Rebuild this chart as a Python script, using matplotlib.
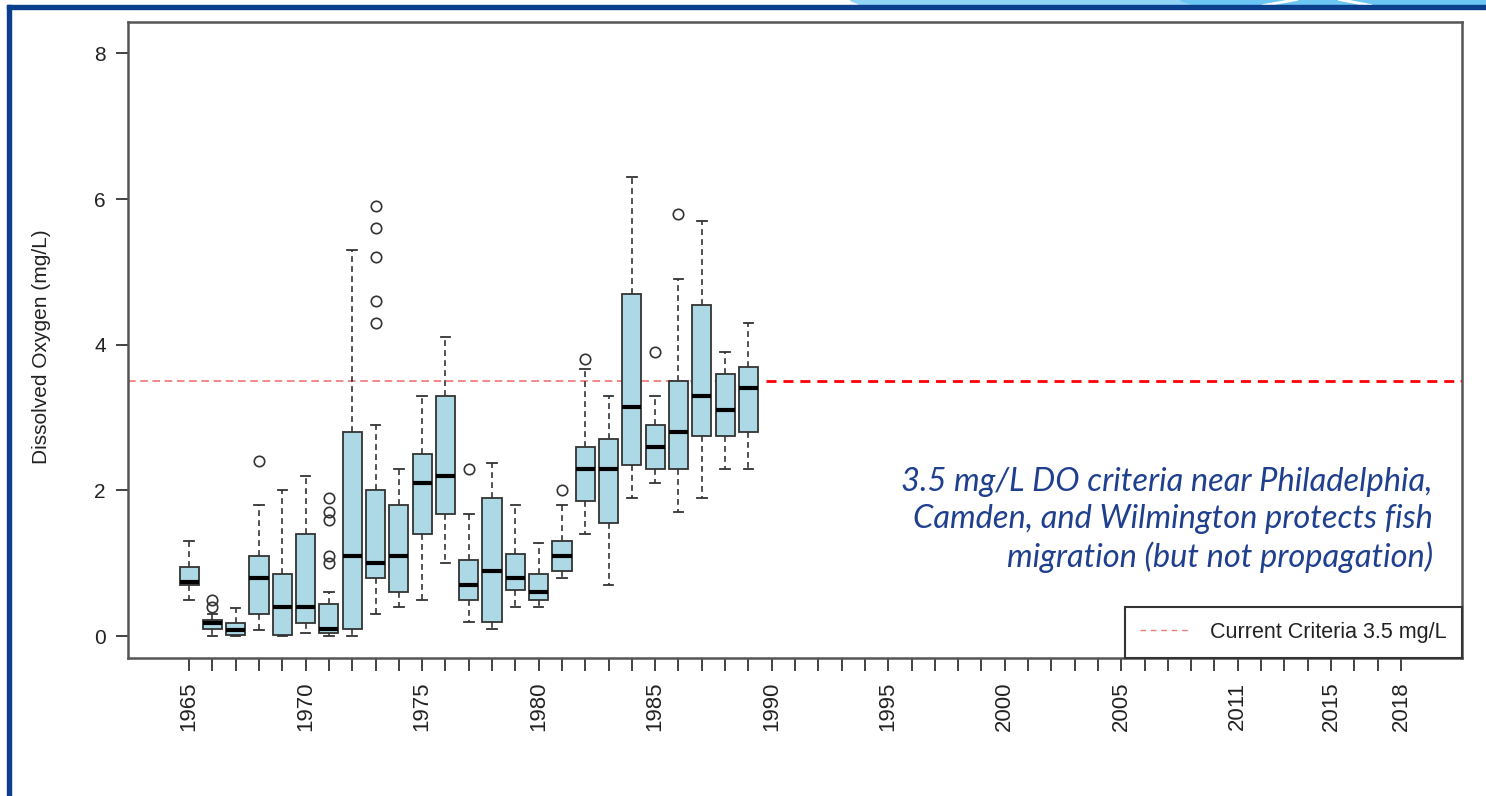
import matplotlib.pyplot as plt
from matplotlib.patches import Rectangle, Polygon
from matplotlib.lines import Line2D

plt.rcParams['font.family'] = ['Liberation Sans', 'DejaVu Sans']

# x axis categories (one slot per sampled year, 2010 not sampled)
years = list(range(1965, 2010)) + list(range(2011, 2019))
label_years = [1965, 1970, 1975, 1980, 1985, 1990, 1995, 2000, 2005, 2011, 2015, 2018]

# summer dissolved oxygen box statistics, mg/L
box_years = list(range(1965, 1990))
whislo = [0.5, 0.0, 0.0, 0.08, 0.0, 0.05, 0.0, 0.0, 0.3, 0.4, 0.5, 1.0, 0.2,
          0.1, 0.4, 0.4, 0.8, 1.4, 0.7, 1.9, 2.1, 1.7, 1.9, 2.3, 2.3]
q1 = [0.7, 0.1, 0.02, 0.3, 0.02, 0.18, 0.05, 0.1, 0.8, 0.6, 1.4, 1.68, 0.5,
      0.2, 0.63, 0.5, 0.9, 1.85, 1.55, 2.35, 2.3, 2.3, 2.75, 2.75, 2.8]
med = [0.75, 0.18, 0.08, 0.8, 0.4, 0.4, 0.1, 1.1, 1.0, 1.1, 2.1, 2.2, 0.7,
       0.9, 0.8, 0.6, 1.1, 2.3, 2.3, 3.15, 2.6, 2.8, 3.3, 3.1, 3.4]
q3 = [0.95, 0.22, 0.18, 1.1, 0.85, 1.4, 0.44, 2.8, 2.0, 1.8, 2.5, 3.3, 1.05,
      1.9, 1.13, 0.85, 1.3, 2.6, 2.7, 4.7, 2.9, 3.5, 4.55, 3.6, 3.7]
whishi = [1.3, 0.3, 0.38, 1.8, 2.0, 2.2, 0.6, 5.3, 2.9, 2.3, 3.3, 4.1, 1.67,
          2.38, 1.8, 1.28, 1.8, 3.67, 3.3, 6.3, 3.3, 4.9, 5.7, 3.9, 4.3]
outliers = [[], [0.5, 0.4], [], [2.4], [], [], [1.9, 1.7, 1.6, 1.1, 1.0], [],
            [5.9, 5.6, 5.2, 4.6, 4.3], [], [], [], [2.3], [], [], [], [2.0],
            [3.8], [], [], [3.9], [5.8], [], [], []]

criteria = 3.5

stats = []
for i, yr in enumerate(box_years):
    stats.append(dict(label=str(yr), whislo=whislo[i], q1=q1[i], med=med[i],
                      q3=q3[i], whishi=whishi[i], fliers=outliers[i]))
positions = [years.index(yr) + 1 for yr in box_years]

W, H = 1486, 796
fig = plt.figure(figsize=(W / 100, H / 100), dpi=100)
ax = fig.add_axes([128 / W, 138 / H, 1334 / W, 636 / H])

edge = '#333333'
ax.bxp(stats, positions=positions, widths=0.82, patch_artist=True,
       boxprops=dict(facecolor='#ADD8E6', edgecolor=edge, linewidth=1.3),
       medianprops=dict(color='black', linewidth=3.0, solid_capstyle='butt'),
       whiskerprops=dict(color=edge, linewidth=1.2, linestyle=(0, (3.5, 2.5))),
       capprops=dict(color=edge, linewidth=1.3),
       flierprops=dict(marker='o', markerfacecolor='none', markeredgecolor=edge,
                       markersize=7.5, markeredgewidth=1.2))

# R-style 4% padding around the category range
n = len(years)
ax.set_xlim(0.5 - 0.04 * n, n + 0.5 + 0.04 * n)
ax.set_ylim(-0.30, 8.43)
ax.set_xticks(range(1, n + 1))
ax.set_xticklabels([str(y) if y in label_years else '' for y in years], rotation=90)
ax.set_yticks([0, 2, 4, 6, 8])
ax.tick_params(axis='both', length=9, width=1.3, color='#333', labelsize=15,
               labelcolor='#222')
ax.tick_params(axis='x', pad=8, labelsize=16)
ax.tick_params(axis='y', pad=7)
for s in ax.spines.values():
    s.set_color('#555')
    s.set_linewidth(1.8)

ax.set_ylabel('Dissolved Oxygen (mg/L)', fontsize=15, color='#222')
ax.yaxis.set_label_coords(-0.058, 0.49)

# original criteria line, then the callout panel over the empty years
ax.axhline(criteria, color='#ee6a6a', lw=1.1, linestyle=(0, (5, 3)), zorder=1.5)
ax.add_patch(Rectangle((0.476, 0.091), 0.521, 0.676, transform=ax.transAxes,
                       facecolor='white', edgecolor='none', zorder=3))
ax.axhline(criteria, xmin=0.4783, xmax=1.0, color='red', lw=2,
           linestyle=(0, (3.6, 2.5)), zorder=4)

h = Line2D([], [], color='#ee7777', lw=1, linestyle=(0, (4, 3.5)))
leg = ax.legend([h], ['Current Criteria 3.5 mg/L'], loc='lower right',
                bbox_to_anchor=(1.0, 0.0), borderaxespad=0, fancybox=False,
                edgecolor='#333', framealpha=1, fontsize=15.5, handlelength=2.3,
                handletextpad=0.95, borderpad=0.7, labelcolor='#222')
leg.get_frame().set_linewidth(1.5)
leg.set_zorder(5)

fig.text(0.9643, 0.3467,
         '3.5 mg/L DO criteria near Philadelphia,\n'
         'Camden, and Wilmington protects fish\n'
         'migration (but not propagation)',
         ha='right', va='center', multialignment='right', fontsize=23.5,
         style='italic', family=['Lato', 'DejaVu Sans'], color='#1f3f8f',
         linespacing=1.3)


# slide frame
def px(x, y):
    return (x / W, 1 - y / H)


fig.add_artist(Polygon([px(850, 0), px(W, 0), px(W, 5), px(862, 5)],
                       closed=True, transform=fig.transFigure, color='#92d5f7'))
fig.add_artist(Polygon([px(1180, 0), px(W, 0), px(W, 5), px(1195, 5)],
                       closed=True, transform=fig.transFigure, color='#6cc5f3'))
fig.add_artist(Polygon([px(1262, 5), px(1270, 5), px(1298, 0), px(1290, 0)],
                       closed=True, transform=fig.transFigure, color='white'))
fig.add_artist(Polygon([px(1338, 0), px(1346, 0), px(1372, 5), px(1364, 5)],
                       closed=True, transform=fig.transFigure, color='white'))
fig.add_artist(Rectangle((7 / W, 0), 4 / W, 1 - 5 / H,
                         transform=fig.transFigure, color='#0b3f8e'))
fig.add_artist(Rectangle((7 / W, 1 - 9 / H), 1 - 7 / W, 4 / H,
                         transform=fig.transFigure, color='#0b3f8e'))

fig.savefig('out.png', dpi=100)
